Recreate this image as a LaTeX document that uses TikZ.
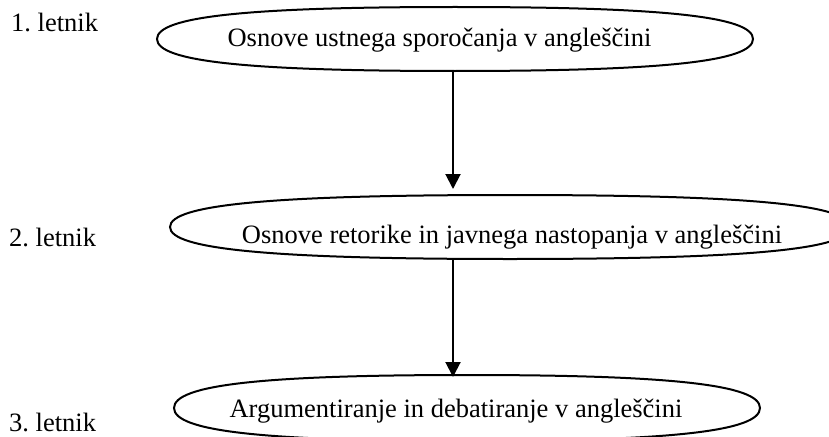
\documentclass[tikz,border=0pt]{standalone}
\usepackage{fontspec}
\setmainfont{Liberation Serif}
\usetikzlibrary{arrows.meta}
\frenchspacing
\tikzset{
  shapeline/.style={line width=2pt, black},
  conn/.style={line width=2pt, -{Triangle[length=15pt,width=15pt]}},
  txt/.style={inner sep=0pt, anchor=base, font=\fontsize{26.5}{30}\selectfont},
  yr/.style={inner sep=0pt, anchor=base west, font=\fontsize{26.5}{30}\selectfont}
}
\newcommand\myshape[4]{%
 \draw[shapeline] ({#1+#3},#2) .. controls ({#1+#3},{#2+0.7*#4}) and ({#1+0.7*#3},{#2+#4}) .. (#1,{#2+#4})
   .. controls ({#1-0.7*#3},{#2+#4}) and ({#1-#3},{#2+0.7*#4}) .. ({#1-#3},#2)
   .. controls ({#1-#3},{#2-0.7*#4}) and ({#1-0.7*#3},{#2-#4}) .. (#1,{#2-#4})
   .. controls ({#1+0.7*#3},{#2-#4}) and ({#1+#3},{#2-0.7*#4}) .. cycle;}
\begin{document}
\begin{tikzpicture}[x=1pt,y=-1pt]
\useasboundingbox (0,0) rectangle (829,436);
\begin{scope}
\clip (0,0) rectangle (829,436);
\myshape{455}{39}{298}{32}
\myshape{510}{227}{340}{32}
\myshape{467}{408}{293}{33}
\end{scope}
\node[txt] (t1) at (439.5,47) {Osnove ustnega sporočanja v angleščini};
\node[txt] (t2) at (512,243) {Osnove retorike in javnega nastopanja v angleščini};
\node[txt] (t3) at (456,417) {Argumentiranje in debatiranje v angleščini};
\node[yr] (y1) at (11,32) {1. letnik};
\node[yr] (y2) at (9,246) {2. letnik};
\node[yr] (y3) at (9,431) {3. letnik};
\coordinate (a1s) at (453,71);
\coordinate (a1e) at (453,189);
\coordinate (a2s) at (453,259);
\coordinate (a2e) at (453,377);
\draw[conn] (a1s) -- (a1e);
\draw[conn] (a2s) -- (a2e);
\end{tikzpicture}
\end{document}
